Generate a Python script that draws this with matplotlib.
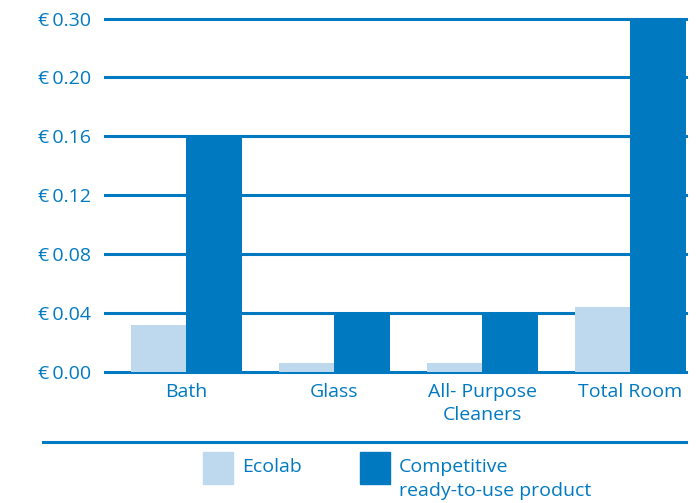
import numpy as np
import matplotlib
matplotlib.use("Agg")
import matplotlib.pyplot as plt
from matplotlib.patches import Rectangle

categories = ["Bath", "Glass", "All- Purpose\nCleaners", "Total Room"]
ecolab = [0.032, 0.0063, 0.0063, 0.044]
competitive = [0.16, 0.04, 0.04, 0.30]
tick_values = [0.00, 0.04, 0.08, 0.12, 0.16, 0.20, 0.30]
tick_labels = ["€\u20090.00", "€\u20090.04", "€\u20090.08", "€\u20090.12",
               "€\u20090.16", "€\u20090.20", "€\u20090.30"]

blue = "#0079C1"
light = "#BED9ED"
plt.rcParams["font.family"] = ["Open Sans", "DejaVu Sans"]
fs = 14

# axis is evenly spaced per tick, not linear (0.20 -> 0.30 takes one step)
steps = np.arange(len(tick_values))
def fwd(v):
    return np.interp(v, tick_values, steps)
def inv(p):
    return np.interp(p, steps, tick_values)

fig = plt.figure(figsize=(7, 5.03), dpi=100)
ax = fig.add_axes([105/700, 1-372/503, (686-105)/700, (372-18.5)/503])
ax.set_yscale("function", functions=(fwd, inv))

x = np.arange(len(categories))
w = 0.375
ax.bar(x - w/2, ecolab, w, color=light, zorder=3)
ax.bar(x + w/2, competitive, w, color=blue, zorder=3)

ax.set_ylim(0, 0.30)
ax.set_xlim(-0.55, 3.375)
ax.set_yticks(tick_values)
ax.set_yticklabels(tick_labels)
ax.yaxis.set_minor_locator(matplotlib.ticker.NullLocator())
ax.set_xticks(x)
ax.set_xticklabels(categories, linespacing=1.35)
for s in ax.spines.values():
    s.set_visible(False)
ax.tick_params(axis="both", length=0, colors=blue, labelsize=fs)
ax.tick_params(axis="y", pad=10)
ax.tick_params(axis="x", pad=8)
ax.grid(axis="y", color=blue, linewidth=2.2, zorder=1)
for t in ax.yaxis.get_major_ticks():
    t.gridline.set_clip_on(False)

# separator line and legend at the bottom
fig.add_artist(plt.Line2D([43/700, 686/700], [1-442/503, 1-442/503],
                          color=blue, linewidth=2.2))
fig.add_artist(Rectangle((203/700, 1-484/503), 30/700, 32/503, color=light))
fig.add_artist(Rectangle((360/700, 1-484/503), 30/700, 32/503, color=blue))
fig.text(242/700, 1-467/503, "Ecolab", color=blue, fontsize=fs, va="center")
fig.text(399/700, 1-467/503, "Competitive", color=blue, fontsize=fs, va="center")
fig.text(399/700, 1-491/503, "ready-to-use product", color=blue, fontsize=fs, va="center")

fig.savefig("out.png", dpi=100)
